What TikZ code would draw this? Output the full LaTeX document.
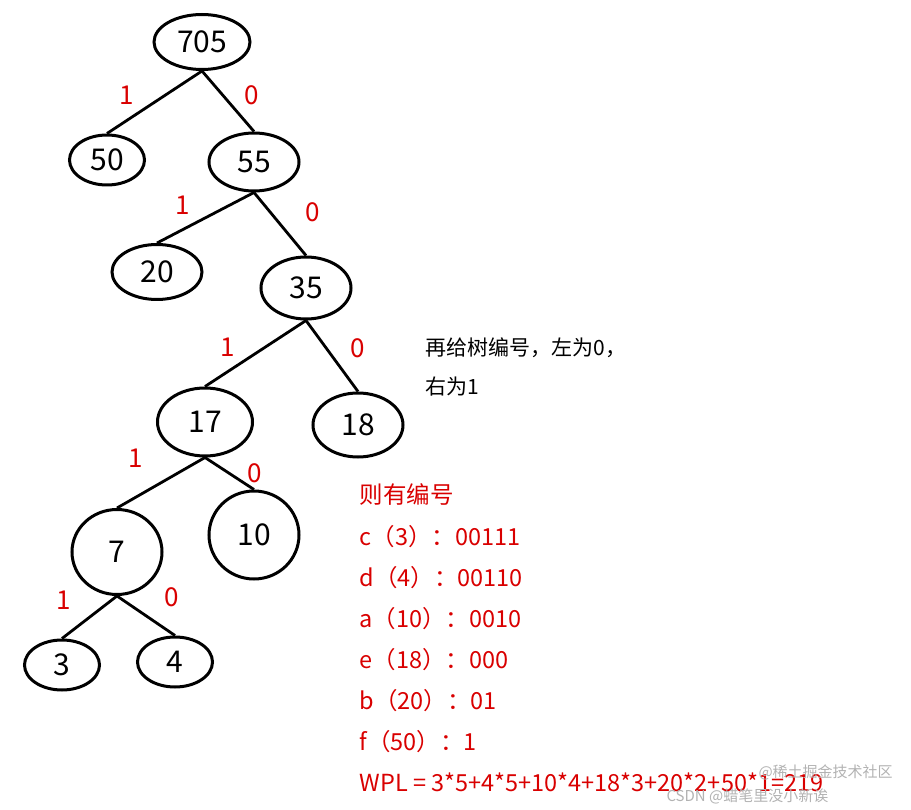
\documentclass[tikz,border=0pt]{standalone}
\usepackage{fontspec}
\setmainfont{Noto Sans CJK SC}
\usetikzlibrary{shapes.geometric}
\begin{document}
\begin{tikzpicture}[x=1pt,y=-1pt,
  tn/.style={draw,ellipse,line width=3pt,inner sep=0pt,font=\fontsize{30}{30}\selectfont},
  ed/.style={line width=2.8pt},
  bl/.style={text=red!85!black,font=\fontsize{26}{26}\selectfont},
  rt/.style={anchor=west,text=red!85!black,font=\fontsize{23.5}{23.5}\selectfont},
  kt/.style={anchor=west,font=\fontsize{21}{21}\selectfont},
  wm/.style={anchor=west,text=black!30,font=\fontsize{15}{15}\selectfont}]
\useasboundingbox (0,0) rectangle (911,810);
\node[tn,minimum width=96,minimum height=55] (n705) at (202,42) {705};
\node[tn,minimum width=75,minimum height=50] (n50) at (107,160) {50};
\node[tn,minimum width=90,minimum height=58] (n55) at (254,162) {55};
\node[tn,minimum width=90,minimum height=55] (n20) at (157,272) {20};
\node[tn,minimum width=90,minimum height=62] (n35) at (306,288) {35};
\node[tn,minimum width=95,minimum height=68] (n17) at (205,422) {17};
\node[tn,minimum width=90,minimum height=64] (n18) at (358,425) {18};
\node[tn,minimum width=90,minimum height=85] (n7) at (117,552) {7};
\node[tn,minimum width=90,minimum height=88] (n10) at (254,535) {10};
\node[tn,minimum width=75,minimum height=50] (n3) at (62,665) {3};
\node[tn,minimum width=75,minimum height=50] (n4) at (175,662) {4};
\foreach \a/\b in {n705/n50,n705/n55,n55/n20,n55/n35,n35/n17,n35/n18,n17/n7,n17/n10,n7/n3,n7/n4}
  \draw[ed] (\a.south) -- (\b.north);
\node[bl] (l1) at (127,95) {1}; \node[bl] (l2) at (252,95) {0};
\node[bl] (l3) at (183,205) {1}; \node[bl] (l4) at (313,212) {0};
\node[bl] (l5) at (228,347) {1}; \node[bl] (l6) at (358,348) {0};
\node[bl] (l7) at (136,458) {1}; \node[bl] (l8) at (255,473) {0};
\node[bl] (l9) at (64,600) {1}; \node[bl] (l10) at (172,597) {0};
\node[kt] (k1) at (422,348) {再给树编号，左为0，};
\node[kt] (k2) at (422,387) {右为1};
\node[rt] (r0) at (356,495) {则有编号};
\node[rt] (r1) at (356,537) {c（3）：00111};
\node[rt] (r2) at (356,578) {d（4）：00110};
\node[rt] (r3) at (356,619) {a（10）：0010};
\node[rt] (r4) at (356,660) {e（18）：000};
\node[rt] (r5) at (356,701) {b（20）：01};
\node[rt] (r6) at (356,742) {f（50）：1};
\node[rt] (r7) at (356,782) {WPL = 3*5+4*5+10*4+18*3+20*2+50*1=219};
\node[wm] (w1) at (755,772) {@稀土掘金技术社区};
\node[wm] (w2) at (663,796) {CSDN @蜡笔里没小新诶};
\end{tikzpicture}
\end{document}
